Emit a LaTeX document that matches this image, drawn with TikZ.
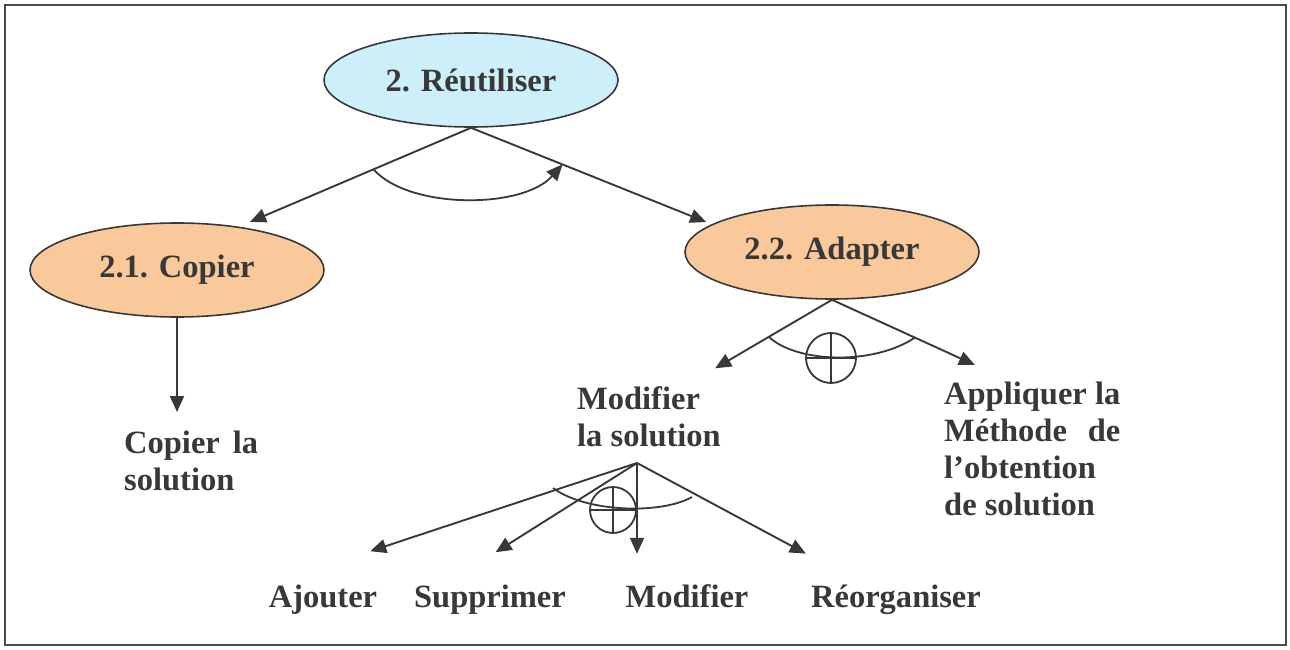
\documentclass[tikz,border=0pt]{standalone}
\usepackage{fontspec}
\setmainfont{Liberation Serif}
\usepackage{calc}
\usepackage{tikz}
\usetikzlibrary{arrows.meta}
\usetikzlibrary{calc}
\usetikzlibrary{shapes.geometric}
\definecolor{ink}{HTML}{383838}
\definecolor{reuse}{HTML}{CDEFFA}
\definecolor{peach}{HTML}{F9C99B}
\tikzstyle{task}=[ellipse, draw=ink, line width=1.6pt, minimum width=294pt, minimum height=94pt, inner sep=0pt, text=ink, font=\fontsize{32.5}{37}\selectfont\bfseries]
\tikzstyle{leaf}=[inner sep=0pt, align=left, text=ink, font=\fontsize{32.5}{37}\selectfont\bfseries]
\tikzstyle{word}=[inner sep=0pt, text height=22pt, text depth=7pt, text=ink, font=\fontsize{32.5}{37}\selectfont\bfseries]
\tikzstyle{arr}=[draw=ink, line width=1.9pt, -{Triangle[length=16pt,width=14pt]}]
\tikzstyle{bow}=[draw=ink, line width=1.8pt]
\tikzstyle{xor}=[circle, draw=ink, line width=1.8pt, inner sep=0pt, minimum size=50pt]

\begin{document}
\begin{tikzpicture}[x=1pt,y=-1pt]
\useasboundingbox (0,0) rectangle (1290,650);
\draw[gray!60!black, line width=2pt] (5,5) rectangle (1286,645);

\node[task, fill=reuse] (reut) at (471,80) {2. Réutiliser};
\node[task, fill=peach] (copier) at (177,270) {2.1. Copier};
\node[task, fill=peach] (adapt) at (832,252) {2.2. Adapter};

\node[leaf, anchor=north west] (copsol) at (124,431) {\makebox[134pt][s]{Copier la}\\solution};
\node[leaf, anchor=north west] (modsol) at (577,386) {Modifier\\la solution};
\node[leaf, anchor=north west] (appl) at (944,382) {Appliquer la\\\makebox[\widthof{Appliquer la}][s]{Méthode de}\\l’obtention\\de solution};

\node[word, anchor=base] (ajout) at (323,607) {Ajouter};
\node[word, anchor=base] (supp) at (490,607) {Supprimer};
\node[word, anchor=base] (modif) at (687,607) {Modifier};
\node[word, anchor=base] (reorg) at (896,607) {Réorganiser};
\coordinate (msol) at (637,463);

\draw[arr, shorten >=12pt] (reut.south) -- (copier.35);
\draw[arr, shorten >=6pt] (reut.south) -- (adapt.167);
\coordinate (rL) at ($(reut.south)!0.42!(copier.35)$);
\coordinate (rR) at ($(reut.south)!0.38!(adapt.167)$);
\draw[bow, -{Triangle[length=16pt,width=14pt]}] (rL) .. controls +(35,40) and +(-40,45) .. (rR);

\draw[arr, shorten >=19pt] (copier.south) -- (copier.south |- copsol.north);

\draw[arr, shorten >=35pt] (adapt.south) -- ([xshift=36pt]modsol.north);
\draw[arr, shorten >=41pt] (adapt.south) -- ([xshift=-20pt]appl.north);
\coordinate (aL) at ($(adapt.south)!0.43!([xshift=36pt]modsol.north)$);
\coordinate (aR) at ($(adapt.south)!0.46!([xshift=-20pt]appl.north)$);
\draw[bow] (aL) .. controls +(28,26) and +(-42,28) .. (aR);
\node[xor] (x1) at (831,358) {};
\draw[bow] (x1.north) -- (x1.south) (x1.west) -- (x1.east);

\draw[arr, shorten >=107pt] (msol) -- (ajout.north west);
\draw[arr, shorten >=61pt] (msol) -- ([xshift=-46pt]supp.north);
\draw[arr, shorten >=31pt] (msol) -- (msol |- modif.north);
\draw[arr, shorten >=66pt] (msol) -- ([xshift=-32pt]reorg.north);
\coordinate (mL) at (553,488);
\coordinate (mR) at (692,497);
\draw[bow] (mL) .. controls +(32,24) and +(-32,18) .. (mR);
\node[xor, minimum size=46pt] (x2) at (613,510) {};
\draw[bow] (x2.north) -- (x2.south) (x2.west) -- (x2.east);
\end{tikzpicture}
\end{document}
